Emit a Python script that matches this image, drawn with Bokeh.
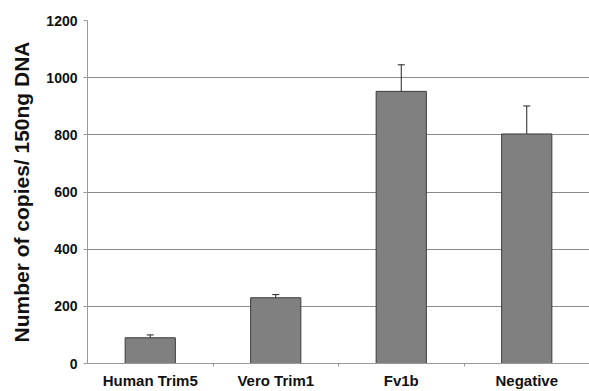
from bokeh.plotting import figure
from bokeh.models import ColumnDataSource, FixedTicker, Whisker, TeeHead, Range1d
from bokeh.embed import file_html
from bokeh.resources import INLINE

categories = ["Human Trim5", "Vero Trim1", "Fv1b", "Negative"]
copies = [90, 230, 952, 803]
errors = [10, 11, 93, 98]
y_ticks = [0, 200, 400, 600, 800, 1000, 1200]

xs = list(range(1, len(categories) + 1))
src = ColumnDataSource(dict(
    x=xs, top=copies,
    upper=[v + e for v, e in zip(copies, errors)],
    lower=[v - e for v, e in zip(copies, errors)],
))

FONT = "Liberation Sans"

p = figure(width=589, height=391, output_backend="svg", toolbar_location=None,
           x_range=Range1d(0.5, len(categories) + 0.5), y_range=Range1d(0, 1200),
           min_border_left=87, min_border_right=0, min_border_top=20, min_border_bottom=25)
p.outline_line_color = None
p.background_fill_color = "white"

p.vbar(x="x", top="top", width=0.4, source=src, fill_color="#808080",
       line_color="#3a3a3a", line_width=1)

w = Whisker(base="x", upper="upper", lower="lower", source=src,
            line_color="#222222", line_width=1,
            upper_head=TeeHead(size=7, line_color="#222222", line_width=1),
            lower_head=TeeHead(size=7, line_color="#222222", line_width=1))
p.add_layout(w)

# x axis
p.xaxis.ticker = FixedTicker(ticks=xs, minor_ticks=[x + 0.5 for x in xs[:-1]])
p.xaxis.major_label_overrides = {x: c for x, c in zip(xs, categories)}
p.xaxis.major_tick_line_color = None
p.xaxis.major_tick_in = 0
p.xaxis.major_tick_out = 0
p.xaxis.minor_tick_line_color = "#999999"
p.xaxis.minor_tick_in = 0
p.xaxis.minor_tick_out = 3
p.xaxis.axis_line_color = "#999999"
p.xaxis.major_label_text_font = FONT
p.xaxis.major_label_text_font_style = "bold"
p.xaxis.major_label_text_font_size = "15px"
p.xaxis.major_label_text_color = "#111111"
p.xaxis.major_label_standoff = 5
p.xgrid.grid_line_color = None

# y axis
p.yaxis.ticker = FixedTicker(ticks=y_ticks)
p.yaxis.minor_tick_line_color = None
p.yaxis.major_tick_in = 0
p.yaxis.major_tick_out = 4
p.yaxis.major_tick_line_color = "#999999"
p.yaxis.axis_line_color = "#999999"
p.yaxis.major_label_text_font = FONT
p.yaxis.major_label_text_font_style = "bold"
p.yaxis.major_label_text_font_size = "14px"
p.yaxis.major_label_text_color = "#111111"
p.yaxis.major_label_standoff = 6
p.yaxis.axis_label = "Number of copies/ 150ng DNA"
p.yaxis.axis_label_text_font = FONT
p.yaxis.axis_label_text_font_style = "bold"
p.yaxis.axis_label_text_font_size = "21px"
p.yaxis.axis_label_text_color = "#111111"
p.yaxis.axis_label_standoff = 10
p.ygrid.grid_line_color = "#8a8a8a"
p.ygrid.grid_line_width = 1

open("out.html", "w").write(file_html(p, INLINE))
